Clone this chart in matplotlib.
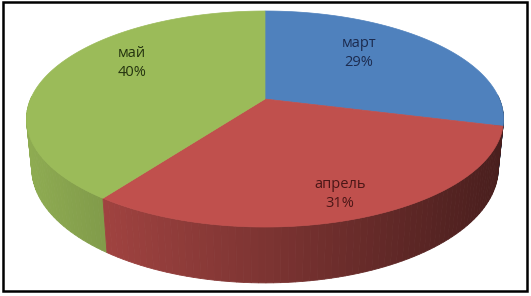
import numpy as np
import matplotlib.pyplot as plt
from matplotlib.patches import Polygon, Rectangle
import matplotlib.colors as mcolors

# data
months = ['март', 'апрель', 'май']
shares = [29, 31, 40]

# style / layout
colors = ['#4F81BD', '#C0504D', '#9BBB59']
text_colors = ['#1C2B4F', '#4A1616', '#24330F']
label_xy = [(359, 53), (340, 194), (132, 63)]

# perspective view of the pie, in pixels
CX, CY = 265, 99
A = 234.4
K = 0.1852
SIN_T, COS_T = 0.445, 0.8955
L = COS_T / K
H = 0.236


def project(t, z=0.0):
    X = np.cos(t)
    Y = np.sin(t)
    d = 1 + K * Y - z * SIN_T / L
    sx = A * X / d
    sy = A * (Y * SIN_T + z * COS_T) / d
    return CX + sx, CY - sy


def shade(color, x):
    f = 0.92 - 0.54 * (x - 26) / 477
    r, g, b = mcolors.to_rgb(color)
    return (r * f, g * f, b * f)


fig = plt.figure(figsize=(5.31, 2.96), dpi=100)
ax = fig.add_axes([0, 0, 1, 1])
ax.set_xlim(0, 531)
ax.set_ylim(296, 0)
ax.axis('off')

# slice angles, starting at 12 o'clock, going clockwise
fracs = np.array(shares) / sum(shares)
starts = np.pi / 2 - 2 * np.pi * np.concatenate([[0], np.cumsum(fracs)[:-1]])
ends = starts - 2 * np.pi * fracs

# side wall strips (front half only), far ones first
strips = []
for i in range(len(shares)):
    n = max(int(np.degrees(starts[i] - ends[i]) / 1.5), 2)
    ts = np.linspace(starts[i], ends[i], n + 1)
    for t0, t1 in zip(ts[:-1], ts[1:]):
        if np.sin(t0) > 0.02 and np.sin(t1) > 0.02:
            continue
        strips.append((np.sin((t0 + t1) / 2), i, t0, t1))
strips.sort(key=lambda s: -s[0])
for _, i, t0, t1 in strips:
    x0, y0 = project(t0)
    x1, y1 = project(t1)
    x2, y2 = project(t1, -H)
    x3, y3 = project(t0, -H)
    c = shade(colors[i], (x0 + x1) / 2)
    ax.add_patch(Polygon([(x0, y0), (x1, y1), (x2, y2), (x3, y3)],
                         closed=True, facecolor=c, edgecolor=c, lw=0.6))

# top faces
for i in range(len(shares)):
    ts = np.linspace(starts[i], ends[i], 200)
    xs, ys = project(ts)
    pts = [(CX, CY)] + list(zip(xs, ys))
    ax.add_patch(Polygon(pts, closed=True, facecolor=colors[i],
                         edgecolor=colors[i], lw=0.5))

# labels
for i in range(len(shares)):
    ax.text(label_xy[i][0], label_xy[i][1], f"{months[i]}\n{shares[i]}%",
            ha='center', va='center', fontsize=10.5, color=text_colors[i],
            family=['Open Sans', 'DejaVu Sans'], linespacing=1.4)

# frame
ax.add_patch(Rectangle((3, 2), 524, 289, fill=False, edgecolor='black', lw=1.8))

fig.savefig('out.png', dpi=100)
